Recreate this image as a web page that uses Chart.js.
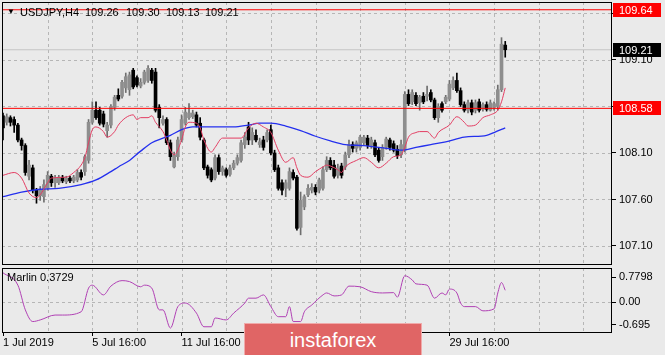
<!DOCTYPE html>
<html>
<head>
<meta charset="utf-8">
<script src="https://cdn.jsdelivr.net/npm/chart.js@4.4.1/dist/chart.umd.min.js"></script>
<style>
  html, body { margin: 0; padding: 0; background: #eaeaea; }
  #wrap { position: relative; width: 665px; height: 355px; background: #eaeaea; overflow: hidden;
          font-family: "Liberation Sans", Arial, sans-serif; font-size: 11px; color: #000; }
  #mainBox { position: absolute; left: 0; top: 0; width: 665px; height: 266px; }
  #indBox { position: absolute; left: 0; top: 266px; width: 665px; height: 89px; }
  .txt { position: absolute; white-space: pre; line-height: 13px; }
  #brand { position: absolute; left: 244px; top: 323px; width: 178px; height: 32px;
           background: #e06565; color: #fff; font-size: 20px; line-height: 32px; text-align: center;
           border-top: 1px solid #f0aaaa; border-left: 1px solid #f0aaaa; border-right: 1px solid #f0aaaa; box-sizing: border-box; }
</style>
</head>
<body>
<div id="wrap">
  <div id="mainBox"><canvas id="main" width="665" height="266"></canvas></div>
  <div id="indBox"><canvas id="ind" width="665" height="89"></canvas></div>
  <div class="txt" style="left:7px;top:5px;font-size:8px;">▼</div>
  <div class="txt" style="left:20px;top:6px;">USDJPY,H4</div>
  <div class="txt" style="left:85px;top:6px;">109.26</div>
  <div class="txt" style="left:126px;top:6px;">109.30</div>
  <div class="txt" style="left:166px;top:6px;">109.13</div>
  <div class="txt" style="left:205px;top:6px;">109.21</div>
  <div class="txt" style="left:7px;top:271px;">Marlin 0.3729</div>
  <div id="brand">instaforex</div>
</div>
<script>
// ---------------------------------------------------------------------------
// Data (USDJPY H4, one entry per bar)
// ---------------------------------------------------------------------------
const opens = [
  108.50,108.43,108.48,108.46,108.40,108.24,108.18,107.85,107.94,107.70,
  107.64,107.63,107.72,107.85,107.78,107.78,107.84,107.79,107.83,107.80,
  107.81,107.89,107.90,108.02,108.43,108.56,108.56,108.52,108.34,108.40,
  108.59,108.72,108.71,108.80,108.78,108.99,108.91,108.82,108.86,108.88,
  108.99,108.97,108.59,108.42,108.46,108.21,107.95,108.06,108.24,108.42,
  108.48,108.49,108.51,108.42,108.24,107.95,107.92,107.83,108.05,107.90,
  107.92,107.87,107.94,107.99,108.02,108.19,108.38,108.24,108.29,108.19,
  108.24,108.24,108.35,108.10,107.94,107.78,107.72,107.72,107.89,107.84,
  107.30,107.52,107.65,107.70,107.73,107.70,107.72,107.92,108.02,107.97,
  107.86,107.96,107.95,108.08,108.19,108.15,108.16,108.21,108.26,108.18,
  108.21,108.13,108.06,108.16,108.24,108.20,108.14,108.08,108.13,108.73,
  108.65,108.72,108.64,108.71,108.71,108.75,108.67,108.48,108.63,108.65,
  108.68,108.80,108.88,108.77,108.62,108.56,108.64,108.56,108.65,108.57,
  108.62,108.56,108.59,108.60,108.78,109.26
];
const highs = [
  108.53,108.52,108.50,108.49,108.42,108.26,108.20,108.02,107.97,107.72,
  107.74,107.81,107.90,107.87,107.86,107.86,107.86,107.85,107.85,107.86,
  107.92,107.92,108.08,108.46,108.65,108.65,108.59,108.55,108.43,108.62,
  108.72,108.79,108.88,108.96,108.97,109.01,108.93,108.90,108.99,109.04,
  109.01,109.01,108.62,108.50,108.48,108.24,108.11,108.27,108.51,108.59,
  108.63,108.56,108.54,108.48,108.26,107.97,107.94,108.08,108.08,107.96,
  107.94,107.97,108.02,108.08,108.24,108.32,108.43,108.37,108.35,108.26,
  108.28,108.35,108.40,108.13,107.97,107.81,107.81,107.94,107.92,107.86,
  107.68,107.65,107.76,107.77,107.76,107.83,107.95,108.06,108.05,108.02,
  107.98,107.99,108.11,108.24,108.22,108.23,108.29,108.29,108.29,108.27,
  108.24,108.16,108.19,108.27,108.26,108.23,108.18,108.24,108.76,108.78,
  108.78,108.75,108.72,108.75,108.82,108.78,108.69,108.63,108.65,108.72,
  108.88,108.92,108.96,108.80,108.65,108.67,108.67,108.67,108.68,108.64,
  108.65,108.67,108.65,108.83,109.34,109.30
];
const lows = [
  108.24,108.40,108.39,108.32,108.22,108.13,107.86,107.81,107.67,107.56,
  107.59,107.57,107.70,107.74,107.73,107.76,107.78,107.77,107.78,107.78,
  107.79,107.81,107.86,107.99,108.41,108.46,108.40,108.38,108.27,108.37,
  108.56,108.66,108.69,108.75,108.72,108.79,108.81,108.80,108.84,108.86,
  108.85,108.54,108.37,108.40,108.19,108.02,107.94,108.02,108.22,108.40,
  108.46,108.47,108.38,108.24,107.92,107.83,107.79,107.81,107.87,107.86,
  107.84,107.85,107.92,107.97,108.00,108.15,108.19,108.19,108.22,108.16,
  108.13,108.22,108.08,107.90,107.70,107.65,107.63,107.70,107.81,107.27,
  107.22,107.49,107.63,107.67,107.65,107.67,107.70,107.90,107.92,107.83,
  107.83,107.83,107.92,108.05,108.11,108.11,108.13,108.19,108.15,108.15,
  108.06,108.00,108.02,108.14,108.13,108.11,108.04,108.05,108.11,108.61,
  108.62,108.61,108.56,108.63,108.66,108.65,108.46,108.43,108.54,108.63,
  108.66,108.78,108.75,108.60,108.54,108.53,108.51,108.53,108.54,108.55,
  108.55,108.55,108.56,108.56,108.76,109.13
];
const closes = [
  108.37,108.49,108.43,108.40,108.24,108.18,107.89,107.97,107.70,107.64,
  107.70,107.76,107.86,107.78,107.83,107.84,107.80,107.83,107.80,107.84,
  107.89,107.84,108.06,108.43,108.56,108.48,108.42,108.41,108.40,108.60,
  108.70,108.68,108.86,108.92,108.94,108.81,108.83,108.86,108.97,109.01,
  108.88,108.56,108.48,108.46,108.21,108.06,108.08,108.24,108.46,108.54,
  108.53,108.53,108.40,108.27,107.94,107.86,107.81,108.05,107.90,107.94,
  107.86,107.94,107.99,108.05,108.21,108.27,108.24,108.32,108.24,108.22,
  108.16,108.32,108.10,107.92,107.72,107.70,107.78,107.90,107.83,107.29,
  107.59,107.63,107.72,107.73,107.68,107.81,107.92,108.02,107.94,107.85,
  107.94,107.86,108.08,108.19,108.15,108.21,108.27,108.27,108.18,108.24,
  108.08,108.02,108.16,108.25,108.16,108.13,108.07,108.19,108.73,108.63,
  108.75,108.63,108.70,108.65,108.73,108.67,108.48,108.60,108.56,108.70,
  108.84,108.88,108.77,108.62,108.56,108.64,108.54,108.64,108.56,108.62,
  108.57,108.64,108.63,108.78,109.27,109.21
];

// red line (fast average), read at bar index
const redBars = [0,3,5,7,9,10,12,13,17,19,21,22,23,24,25,27,28,30,31,33,35,36,37,39,40,41,43,44,45,46,
  48,49,50,52,53,54,56,57,59,64,66,68,70,72,74,76,78,79,80,82,84,86,87,88,90,91,92,95,97,99,101,
  103,105,107,108,109,111,112,114,116,117,120,122,124,125,127,129,131,133,134,135];
const redVals = [107.86,107.89,107.83,107.67,107.62,107.65,107.78,107.83,107.84,107.89,107.97,108.05,108.21,108.35,
  108.38,108.33,108.27,108.33,108.40,108.48,108.51,108.46,108.48,108.48,108.50,108.43,108.33,108.24,108.13,108.08,
  108.24,108.38,108.43,108.42,108.37,108.24,108.11,108.16,108.26,108.26,108.37,108.42,108.38,108.32,108.13,108.00,
  108.05,107.94,107.86,107.84,107.90,107.95,107.97,107.96,107.92,107.89,107.95,108.02,108.05,108.00,107.94,
  107.99,108.06,108.08,108.16,108.27,108.32,108.33,108.33,108.26,108.32,108.40,108.49,108.43,108.39,108.40,
  108.48,108.51,108.56,108.65,108.80];

// blue line (slow average)
const blueBars = [0,5,10,15,21,25,29,31,34,37,40,43,45,48,51,56,62,66,69,72,76,80,84,88,92,97,103,107,111,115,119,124,130,132,135];
const blueVals = [107.63,107.68,107.71,107.72,107.76,107.81,107.90,107.95,108.02,108.12,108.21,108.26,108.29,108.35,
  108.38,108.38,108.38,108.40,108.42,108.42,108.39,108.34,108.28,108.23,108.19,108.18,108.15,108.13,108.16,
  108.19,108.22,108.27,108.29,108.32,108.37];

// Marlin oscillator
const marlinBars = [0,4,6,8,10,14,16,21,23,24,27,29,32,34,37,38,40,42,43,45,47,49,52,54,56,57,60,62,65,66,68,70,
  72,74,76,77,78,80,81,83,86,87,89,91,93,96,99,102,105,106,108,110,111,114,116,118,119,120,122,123,124,127,129,
  132,133,134,135];
const marlinVals = [0.91,0.53,-0.23,-0.59,-0.54,-0.39,-0.39,-0.29,0.44,0.53,0.23,0.50,0.67,0.64,0.48,0.53,0.44,-0.23,
  -0.23,-0.79,-0.13,-0.02,-0.33,-0.75,-0.75,-0.48,-0.54,-0.33,-0.02,0.13,0.13,0.23,-0.13,-0.44,-0.44,-0.13,-0.59,
  -0.59,-0.29,-0.08,0.23,0.29,0.20,0.23,0.50,0.48,0.33,0.29,0.30,0.16,0.82,0.69,0.57,0.53,0.13,0.29,0.23,0.41,
  0.29,-0.02,-0.13,-0.13,-0.26,-0.20,0.29,0.61,0.3729];

const levelPrices = [109.64, 108.58];   // red horizontal lines
const bidPrice = 109.21;
const priceTicks = [107.10, 107.60, 108.10, 108.60, 109.10, 109.60];
const marlinTicks = [-0.695, 0, 0.7798];
const marlinTickText = ["-0.695", "0.00", "0.7798"];
const timeBars = [0, 24, 48, 72, 96, 120];
const timeLabels = ["1 Jul 2019", "5 Jul 16:00", "11 Jul 16:00", "17 Jul 16:00", "23 Jul 16:00", "29 Jul 16:00"];

// ---------------------------------------------------------------------------
// Look
// ---------------------------------------------------------------------------
const FONT = { family: "'Liberation Sans', Arial, sans-serif", size: 11 };
const GRID = "#b6b6b6";
const BULL = "#8e8e8e";
const BULL_WICK = "#6e6e6e";
const BEAR = "#000000";
const X_MIN = -0.27;
const X_MAX = 163.7;
const gridBars = [];
for (let b = 12; b <= 156; b += 12) gridBars.push(b);

const isBull = (i) => closes[i] >= opens[i];

// frame round the pane, plus dashed grid drawn under the data
const framePlugin = {
  id: "frame",
  beforeDatasetsDraw(chart) {
    const { ctx, chartArea: a } = chart;
    const xs = chart.scales.x, ys = chart.scales.y;
    ctx.save();
    ctx.strokeStyle = GRID;
    ctx.lineWidth = 1;
    ctx.setLineDash([3, 3]);
    ctx.beginPath();
    gridBars.forEach((b) => {
      const px = Math.round(xs.getPixelForValue(b)) + 0.5;
      ctx.moveTo(px, a.top);
      ctx.lineTo(px, a.bottom);
    });
    (chart.options.gridY || []).forEach((v) => {
      const py = Math.round(ys.getPixelForValue(v)) + 0.5;
      ctx.moveTo(a.left, py);
      ctx.lineTo(a.right, py);
    });
    ctx.stroke();
    ctx.restore();
  },
  afterDraw(chart) {
    const { ctx, chartArea: a } = chart;
    ctx.save();
    ctx.strokeStyle = "#000";
    ctx.lineWidth = 1;
    ctx.strokeRect(a.left + 0.5, a.top + 0.5, a.right - a.left - 1, a.bottom - a.top - 1);
    ctx.restore();
  },
};

// coloured price tags on the right axis
const tagPlugin = {
  id: "tags",
  afterDraw(chart) {
    const { ctx, chartArea: a } = chart;
    const ys = chart.scales.y;
    const tags = [
      { v: levelPrices[0], bg: "#ff0000" },
      { v: bidPrice, bg: "#000000" },
      { v: levelPrices[1], bg: "#ff0000" },
    ];
    ctx.save();
    ctx.font = `${FONT.size}px ${FONT.family}`;
    ctx.textBaseline = "middle";
    tags.forEach((t) => {
      const py = Math.round(ys.getPixelForValue(t.v));
      ctx.fillStyle = t.bg;
      ctx.fillRect(a.right + 1, py - 7, 48, 14);
      ctx.fillStyle = "#fff";
      ctx.fillText(t.v.toFixed(2), a.right + 7, py + 0.5);
    });
    ctx.restore();
  },
};

function hLine(value, color, order) {
  return {
    type: "line",
    data: [{ x: X_MIN, y: value }, { x: X_MAX, y: value }],
    borderColor: color,
    borderWidth: 1,
    pointRadius: 0,
    order,
  };
}

function curve(bars, vals, color, width, order) {
  return {
    type: "line",
    data: bars.map((b, i) => ({ x: b, y: vals[i] })),
    borderColor: color,
    borderWidth: width,
    pointRadius: 0,
    cubicInterpolationMode: "monotone",
    order,
  };
}

const noGrid = { display: true, drawOnChartArea: false, tickColor: "#000", tickLength: 4 };

// ---------------------------------------------------------------------------
// Main price pane
// ---------------------------------------------------------------------------
new Chart(document.getElementById("main"), {
  type: "bar",
  data: {
    datasets: [
      hLine(bidPrice, "#c4c4c4", 9),
      {
        // wicks
        data: opens.map((_, i) => ({ x: i, y: [lows[i], highs[i]] })),
        backgroundColor: (c) => (isBull(c.dataIndex) ? BULL_WICK : BEAR),
        barThickness: 1,
        grouped: false,
        borderWidth: 0,
        order: 5,
      },
      {
        // bodies
        data: opens.map((_, i) => ({ x: i, y: [opens[i], closes[i]] })),
        backgroundColor: (c) => (isBull(c.dataIndex) ? BULL : BEAR),
        barThickness: 3,
        grouped: false,
        borderWidth: 0,
        minBarLength: 1,
        order: 4,
      },
      curve(blueBars, blueVals, "#2430ee", 1.3, 2),
      curve(redBars, redVals, "#e33d62", 1, 1),
      hLine(levelPrices[0], "#ff0000", 0),
      hLine(levelPrices[1], "#ff0000", 0),
    ],
  },
  options: {
    responsive: false,
    animation: false,
    events: [],
    gridY: priceTicks,
    layout: { padding: { left: 2, top: 2, right: 0, bottom: 1 } },
    plugins: { legend: { display: false }, tooltip: { enabled: false } },
    scales: {
      x: {
        type: "linear",
        min: X_MIN,
        max: X_MAX,
        offset: false,
        grid: { display: false, offset: false },
        border: { display: false },
        ticks: { display: false },
        afterBuildTicks: (s) => { s.ticks = gridBars.map((v) => ({ value: v })); },
        afterFit: (s) => { s.height = 0; s.paddingLeft = 0; s.paddingRight = 0; },
      },
      y: {
        position: "right",
        min: 106.8955,
        max: 109.7235,
        grid: noGrid,
        border: { display: false },
        ticks: { color: "#000", font: FONT, padding: 3, callback: (v) => Number(v).toFixed(2) },
        afterBuildTicks: (s) => { s.ticks = priceTicks.map((v) => ({ value: v })); },
        afterFit: (s) => { s.width = 53; s.paddingTop = 0; s.paddingBottom = 0; },
      },
    },
  },
  plugins: [framePlugin, tagPlugin],
});

// ---------------------------------------------------------------------------
// Marlin pane + time axis
// ---------------------------------------------------------------------------
new Chart(document.getElementById("ind"), {
  type: "line",
  data: {
    datasets: [curve(marlinBars, marlinVals, "#b040b4", 1, 0)],
  },
  options: {
    responsive: false,
    animation: false,
    events: [],
    gridY: [0],
    layout: { padding: { left: 2, top: 2, right: 0, bottom: 0 } },
    plugins: { legend: { display: false }, tooltip: { enabled: false } },
    scales: {
      x: {
        type: "linear",
        min: X_MIN,
        max: X_MAX,
        offset: false,
        grid: {
          display: true,
          drawOnChartArea: false,
          offset: false,
          tickColor: (c) => (c.tick && timeBars.includes(c.tick.value) ? "#000" : "rgba(0,0,0,0)"),
          tickLength: 3,
        },
        border: { display: false },
        ticks: {
          autoSkip: false,
          maxRotation: 0,
          align: "start",
          padding: 0,
          color: "#000",
          font: FONT,
          callback: (v) => {
            const k = timeBars.indexOf(v);
            return k >= 0 ? timeLabels[k] : "";
          },
        },
        afterBuildTicks: (s) => { s.ticks = [0].concat(gridBars).map((v) => ({ value: v })); },
        afterFit: (s) => { s.height = 22; s.paddingLeft = 0; s.paddingRight = 0; },
      },
      y: {
        position: "right",
        min: -0.942,
        max: 1.058,
        grid: noGrid,
        border: { display: false },
        ticks: { color: "#000", font: FONT, padding: 3, callback: (v, i) => marlinTickText[i] },
        afterBuildTicks: (s) => { s.ticks = marlinTicks.map((v) => ({ value: v })); },
        afterFit: (s) => { s.width = 53; s.paddingTop = 0; s.paddingBottom = 0; },
      },
    },
  },
  plugins: [framePlugin],
});
</script>
</body>
</html>
